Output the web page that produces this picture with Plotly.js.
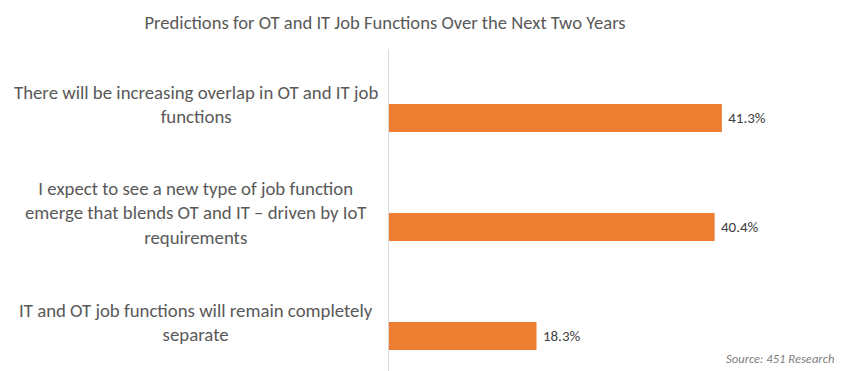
<!DOCTYPE html>
<html>
<head>
<meta charset="utf-8">
<script src="https://cdn.plot.ly/plotly-3.0.1.min.js"></script>
<style>html,body{margin:0;padding:0;background:#fff}#chart{width:850px;height:371px}</style>
</head>
<body>
<div id="chart"></div>
<script>
const categories = [
  "There will be increasing overlap in OT and IT job<br>functions",
  "I expect to see a new type of job function<br>emerge that blends OT and IT – driven by IoT<br>requirements",
  "IT and OT job functions will remain completely<br>separate"
];
const values = [41.3, 40.4, 18.3];
const valueLabels = ["41.3%", "40.4%", "18.3%"];
const chartTitle = "Predictions for OT and IT Job Functions Over the Next Two Years";
const sourceText = "Source: 451 Research";

const FONT = "Carlito, 'Liberation Sans Narrow', 'Open Sans', sans-serif";
const idx = categories.map((c, i) => i);

const trace = {
  type: 'bar',
  orientation: 'h',
  x: values,
  y: idx,
  text: valueLabels,
  texttemplate: '\u00a0%{text}',
  textposition: 'outside',
  cliponaxis: false,
  textfont: {family: FONT, size: 15, color: '#404040'},
  marker: {color: '#ED7D31'},
  width: 0.257,
  hoverinfo: 'none'
};

const annotations = categories.map((c, i) => ({
  text: c,
  xref: 'paper', yref: 'y',
  x: -0.479, y: i,
  xanchor: 'center', yanchor: 'middle',
  yshift: 14,
  align: 'center',
  showarrow: false,
  font: {family: FONT, size: 18.8, color: '#595959'}
}));
annotations.push({
  text: '<i>' + sourceText + '</i>',
  xref: 'paper', yref: 'paper',
  x: 1.108, y: 0.04,
  xanchor: 'right', yanchor: 'middle',
  showarrow: false,
  font: {family: FONT, size: 12.6, color: '#7F7F7F'}
});

const layout = {
  width: 850, height: 371,
  margin: {l: 389, r: 58, t: 49, b: 0},
  paper_bgcolor: '#fff', plot_bgcolor: '#fff',
  title: {text: chartTitle, x: 0.453, xanchor: 'center', y: 0.94, yanchor: 'middle',
          font: {family: FONT, size: 18.6, color: '#595959'}},
  xaxis: {range: [0, 50], showgrid: false, zeroline: false, showticklabels: false, showline: false, fixedrange: true},
  yaxis: {type: 'linear', range: [2.321, -0.633], showgrid: false, zeroline: false, showticklabels: false,
          showline: true, linecolor: '#D9D9D9', linewidth: 1, ticks: '', fixedrange: true},
  showlegend: false,
  annotations: annotations
};

Plotly.newPlot('chart', [trace], layout, {displayModeBar: false, staticPlot: true});
</script>
</body>
</html>
